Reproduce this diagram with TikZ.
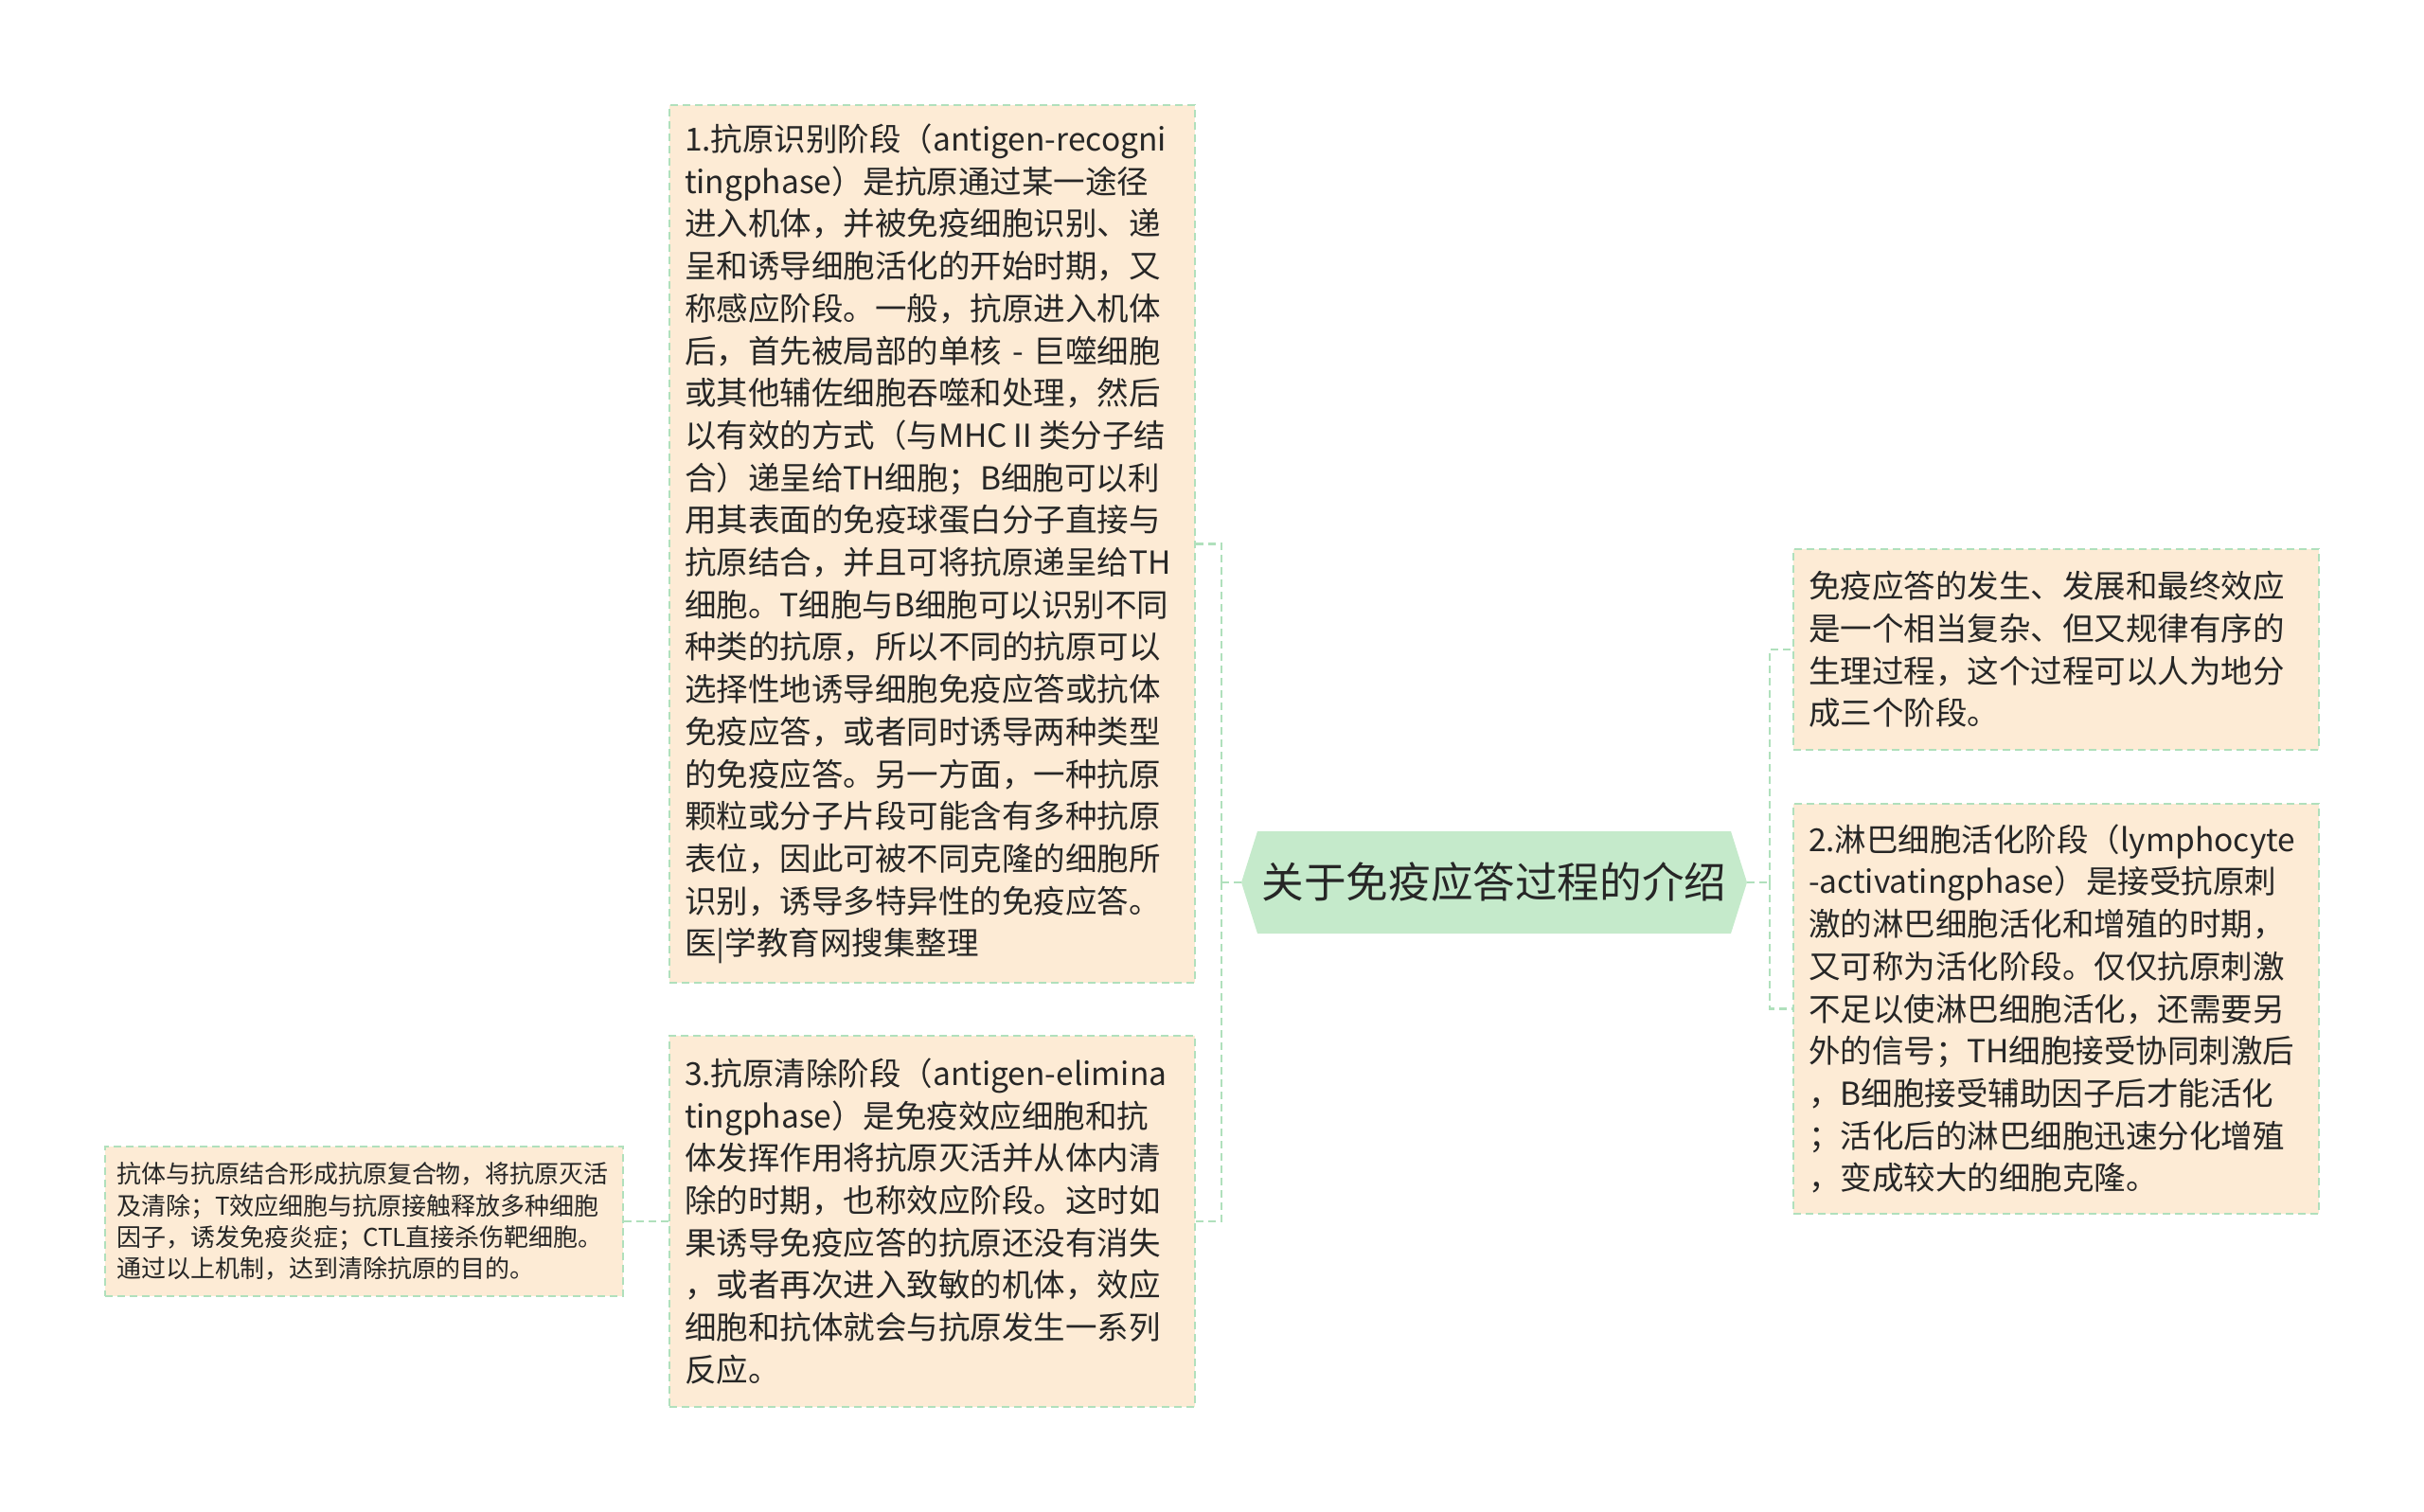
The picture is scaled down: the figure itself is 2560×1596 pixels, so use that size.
\documentclass[tikz,border=0pt]{standalone}
\usepackage{fontspec}
\setmainfont{Noto Sans CJK SC}

\definecolor{boxfill}{HTML}{FDEBD5}
\definecolor{linegreen}{HTML}{B0E0BC}
\definecolor{hubfill}{HTML}{C5EACB}
\definecolor{ink}{HTML}{262626}

\begin{document}
\begin{tikzpicture}[x=0.5pt,y=-0.5pt,
    card/.style={draw=linegreen,line width=1pt,dash pattern=on 4pt off 2.5pt,fill=boxfill,text=ink,
      align=left,inner xsep=8pt,inner ysep=0pt,text width=261.5pt,
      font=\fontsize{16.75pt}{22.35pt}\selectfont},
    smallcard/.style={card,inner xsep=6pt,text width=261.5pt,font=\fontsize{13pt}{16.6pt}\selectfont},
    hub/.style={minimum width=267pt,minimum height=54pt,inner sep=0pt,text=ink,
      font=\fontsize{22.3pt}{26pt}\selectfont,
      path picture={\fill[hubfill] (path picture bounding box.west)
        -- ([xshift=8.5pt]path picture bounding box.north west)
        -- ([xshift=-8.5pt]path picture bounding box.north east)
        -- (path picture bounding box.east)
        -- ([xshift=-8.5pt]path picture bounding box.south east)
        -- ([xshift=8.5pt]path picture bounding box.south west) -- cycle;}},
    link/.style={draw=linegreen,line width=1.3pt,dash pattern=on 4pt off 2.5pt}]
  \useasboundingbox (0,0) rectangle (2560,1596);

  \node[hub] (hub) at (1578,932) {关于免疫应答过程的介绍};

  \node[card,minimum height=463.5pt] (recog) at (984.5,574.5) {1.抗原识别阶段（antigen-recogni\\tingphase）是抗原通过某一途径\\进入机体，并被免疫细胞识别、递\\呈和诱导细胞活化的开始时期，又\\称感应阶段。一般，抗原进入机体\\后，首先被局部的单核 - 巨噬细胞\\或其他辅佐细胞吞噬和处理，然后\\以有效的方式（与MHCⅡ类分子结\\合）递呈给TH细胞；B细胞可以利\\用其表面的免疫球蛋白分子直接与\\抗原结合，并且可将抗原递呈给TH\\细胞。T细胞与B细胞可以识别不同\\种类的抗原，所以不同的抗原可以\\选择性地诱导细胞免疫应答或抗体\\免疫应答，或者同时诱导两种类型\\的免疫应答。另一方面，一种抗原\\颗粒或分子片段可能含有多种抗原\\表位，因此可被不同克隆的细胞所\\识别，诱导多特异性的免疫应答。\\医|学教育网搜集整理};
  \node[card,minimum height=196pt] (clear) at (984.5,1290) {3.抗原清除阶段（antigen-elimina\\tingphase）是免疫效应细胞和抗\\体发挥作用将抗原灭活并从体内清\\除的时期，也称效应阶段。这时如\\果诱导免疫应答的抗原还没有消失\\，或者再次进入致敏的机体，效应\\细胞和抗体就会与抗原发生一系列\\反应。};
  \node[smallcard,minimum height=79pt] (effect) at (384.5,1290) {抗体与抗原结合形成抗原复合物，将抗原灭活\\及清除；T效应细胞与抗原接触释放多种细胞\\因子，诱发免疫炎症；CTL直接杀伤靶细胞。\\通过以上机制，达到清除抗原的目的。};
  \node[card,minimum height=106pt] (intro) at (2171.5,686) {免疫应答的发生、发展和最终效应\\是一个相当复杂、但又规律有序的\\生理过程，这个过程可以人为地分\\成三个阶段。};
  \node[card,minimum height=216.5pt] (activ) at (2171.5,1065.5) {2.淋巴细胞活化阶段（lymphocyte\\-activatingphase）是接受抗原刺\\激的淋巴细胞活化和增殖的时期，\\又可称为活化阶段。仅仅抗原刺激\\不足以使淋巴细胞活化，还需要另\\外的信号；TH细胞接受协同刺激后\\，B细胞接受辅助因子后才能活化\\；活化后的淋巴细胞迅速分化增殖\\，变成较大的细胞克隆。};

  \coordinate (lsplit) at (1290,932);
  \coordinate (rsplit) at (1869,932);
  \draw[link] (hub.west) -- (lsplit);
  \draw[link] (lsplit) |- (recog.east);
  \draw[link] (lsplit) |- (clear.east);
  \draw[link] (clear.west) -- (effect.east);
  \draw[link] (hub.east) -- (rsplit);
  \draw[link] (rsplit) |- (intro.west);
  \draw[link] (rsplit) |- (activ.west);
\end{tikzpicture}
\end{document}
